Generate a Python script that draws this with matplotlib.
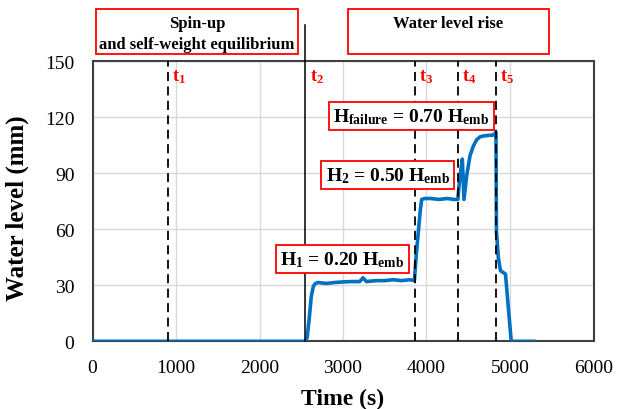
import matplotlib.pyplot as plt
from matplotlib.patches import Rectangle

plt.rcParams['font.family'] = ['Liberation Serif', 'DejaVu Serif']
plt.rcParams['mathtext.fontset'] = 'custom'
plt.rcParams['mathtext.rm'] = 'Liberation Serif'
plt.rcParams['mathtext.bf'] = 'Liberation Serif:bold'
plt.rcParams['mathtext.it'] = 'Liberation Serif:italic'

# water level record
time_s = [0, 2550, 2570, 2595, 2620, 2645, 2670, 2700, 2800, 2900, 3000, 3100,
          3200, 3240, 3280, 3400, 3500, 3600, 3700, 3800, 3855, 3875, 3902,
          3925, 3942, 3980, 4050, 4150, 4250, 4330, 4375, 4400, 4429, 4449,
          4481, 4521, 4560, 4601, 4640, 4680, 4740, 4800, 4832, 4838, 4860,
          4886, 4920, 4946, 4980, 5015, 5285]
level_mm = [0, 0, 2, 12, 24, 29.5, 31, 31.5, 31, 31.5, 31.8, 32, 32, 34, 32,
            32.5, 32.5, 33, 32.5, 33, 32.5, 45, 58.5, 70, 76, 76.5, 76.5,
            76, 76.5, 76, 76, 88, 97.6, 76, 88.7, 99.4, 104.5, 108, 109.5,
            110, 110.3, 110.5, 112, 58.5, 45, 37.8, 36.8, 36, 18, 0, 0]

events = ['t$_\\mathbf{1}$', 't$_\\mathbf{2}$', 't$_\\mathbf{3}$', 't$_\\mathbf{4}$', 't$_\\mathbf{5}$']
event_times = [906, 2550, 3858, 4375, 4836]

stage_labels = [r'$\mathbf{H_1}$ = 0.20 $\mathbf{H_{emb}}$',
                r'$\mathbf{H_2}$ = 0.50 $\mathbf{H_{emb}}$',
                r'$\mathbf{H_{failure}}$ = 0.70 $\mathbf{H_{emb}}$']
stage_x = [2995, 3535, 3820]
stage_y = [44, 89, 120.5]

fig = plt.figure(figsize=(6.17, 4.10), dpi=100)
ax = fig.add_axes([92.5 / 617, 1 - 342.3 / 410, 501 / 617, 280 / 410])

ax.plot(time_s, level_mm, color='#0070C0', lw=2.6, zorder=3)

for i, t in enumerate(event_times):
    if i == 1:
        ax.axvline(t, ymin=0, ymax=1.13, color='black', lw=1.1, clip_on=False, zorder=4)
    else:
        ax.axvline(t, color='black', lw=1.3, ls=(0, (5, 3)), zorder=4)
    ax.text(t + 50, 147, events[i], color='red', fontsize=13, fontweight='bold',
            va='top', ha='left')

for s, x, y in zip(stage_labels, stage_x, stage_y):
    ax.text(x, y, s, ha='center', va='center', fontsize=14, fontweight='bold', zorder=5,
            bbox=dict(boxstyle='square,pad=0.22', fc='white', ec='red', lw=1.3))

ax.set_xlim(0, 6000)
ax.set_ylim(0, 150)
ax.set_xticks(range(0, 6001, 1000))
ax.set_yticks(range(0, 151, 30))
ax.grid(True, color='#d9d9d9', lw=1)
ax.set_axisbelow(True)
ax.tick_params(length=0, labelsize=14, pad=13)
for sp in ax.spines.values():
    sp.set_color('#404040')
    sp.set_linewidth(1.5)
ax.set_xlabel('Time (s)', fontsize=17, fontweight='bold', labelpad=8)
ax.set_ylabel('Water level (mm)', fontsize=18, fontweight='bold')
ax.yaxis.set_label_coords(-0.126, 0.478)

# phase boxes above the plot
boxes = [(96, 10, 202, 45, 'Spin-up\nand self-weight equilibrium'),
         (348, 10, 201, 45, 'Water level rise')]
for x0, y0, w, h, s in boxes:
    fig.patches.append(Rectangle((x0 / 617, 1 - (y0 + h) / 410), w / 617, h / 410,
                                 transform=fig.transFigure, fc='white', ec='red', lw=1.3))
    fig.text((x0 + w / 2) / 617, 1 - (y0 + 6) / 410, s, ha='center', va='top',
             fontsize=12, fontweight='bold', linespacing=1.4)

fig.savefig('out.png', dpi=100)
